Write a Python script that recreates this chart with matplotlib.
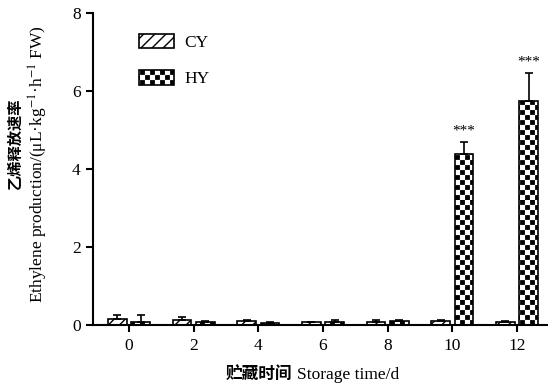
import matplotlib.pyplot as plt
import numpy as np
from matplotlib import hatch as mhatch
from matplotlib.path import Path
from matplotlib.patches import Patch

plt.rcParams['font.family'] = ['Liberation Serif', 'Noto Sans CJK SC']
plt.rcParams['mathtext.fontset'] = 'stix'
plt.rcParams['hatch.linewidth'] = 1.0

# Data
days = [0, 2, 4, 6, 8, 10, 12]
cy = [0.15, 0.13, 0.11, 0.07, 0.09, 0.10, 0.08]
cy_err = [0.10, 0.07, 0.03, 0.02, 0.03, 0.03, 0.03]
hy = [0.09, 0.08, 0.06, 0.09, 0.10, 4.38, 5.74]
hy_err = [0.17, 0.03, 0.02, 0.03, 0.03, 0.31, 0.73]
stars = ['', '', '', '', '', '***', '***']


# checkerboard hatch, takes the place of the '*' hatch
class CheckerHatch(mhatch.HatchPatternBase):
    def __init__(self, hatch, density):
        self.n = hatch.count('*') * 5
        self.num_vertices = 2 * self.n * self.n * 5

    def set_vertices_and_codes(self, vertices, codes):
        s = 1.0 / (2 * self.n)
        m = 0.006
        sq = []
        for i in range(self.n):
            for j in range(self.n):
                for x0, y0 in [(2 * i * s, 2 * j * s), ((2 * i + 1) * s, (2 * j + 1) * s)]:
                    sq.append([(x0 + m, y0 + m), (x0 + s - m, y0 + m),
                               (x0 + s - m, y0 + s - m), (x0 + m, y0 + s - m),
                               (x0 + m, y0 + m)])
        vertices[:] = np.array(sq).reshape(-1, 2)
        codes[:] = np.tile([Path.MOVETO, Path.LINETO, Path.LINETO, Path.LINETO,
                            Path.CLOSEPOLY], len(sq))


mhatch._hatch_types = [t for t in mhatch._hatch_types if t is not mhatch.Stars] + [CheckerHatch]

x = np.array(days, dtype=float)
w = 0.58
off = 0.36

fig = plt.figure(figsize=(5.48, 3.87), dpi=100)
ax = fig.add_axes([0.170, 0.160, 0.830, 0.806])

ax.bar(x - off, cy, w, color='white', edgecolor='black', hatch='///', linewidth=1.2)
ax.errorbar(x - off, cy, yerr=[np.zeros(len(cy)), cy_err], fmt='none',
            ecolor='black', elinewidth=1.2, capsize=3, capthick=1.2)

ax.bar(x + off, hy, w, color='black', edgecolor='white', hatch='**', linewidth=0)
ax.bar(x + off, hy, w, color='none', edgecolor='black', linewidth=1.2)
ax.errorbar(x + off, hy, yerr=[np.zeros(len(hy)), hy_err], fmt='none',
            ecolor='black', elinewidth=1.2, capsize=3, capthick=1.2)

for xi, yi, ei, s in zip(x, hy, hy_err, stars):
    if s:
        ax.text(xi + off, yi + ei + 0.28, s, ha='center', va='center', fontsize=11)

# legend
h1 = Patch(facecolor='white', edgecolor='black', hatch='///', linewidth=1.2)
h2a = Patch(facecolor='black', edgecolor='white', hatch='**', linewidth=0)
h2b = Patch(facecolor='none', edgecolor='black', linewidth=1.2)
ax.legend([h1, (h2a, h2b)], ['CY', 'HY'], loc='upper left',
          bbox_to_anchor=(139 / 548, (387 - 34) / 387), bbox_transform=fig.transFigure,
          frameon=False, fontsize=12.5, handlelength=2.0, handleheight=0.9,
          labelspacing=1.1, handletextpad=0.6, borderpad=0, borderaxespad=0)

ax.set_xlim(-1.11, 12.96)
ax.set_ylim(0, 8)
ax.set_xticks(days)
ax.set_yticks([0, 2, 4, 6, 8])
ax.tick_params(labelsize=12.5, width=1.5, length=5, direction='out', pad=4)
for side in ['top', 'right']:
    ax.spines[side].set_visible(False)
for side in ['left', 'bottom']:
    ax.spines[side].set_linewidth(1.5)

# axis titles: Chinese part bold, English part regular
fig.text(292 / 548, 12 / 387, '贮藏时间', ha='right', va='center',
         fontsize=12, fontweight='bold', family=['Noto Sans CJK SC'])
fig.text(297 / 548, 12 / 387, 'Storage time/d', ha='left', va='center', fontsize=12.5)
fig.text(14 / 548, 1 - 143 / 387, '乙烯释放速率', rotation=90, ha='center', va='center',
         fontsize=11, fontweight='bold', family=['Noto Sans CJK SC'])
fig.text(38 / 548, 1 - 164 / 387, r'Ethylene production/(μL·kg$^{-1}$·h$^{-1}$ FW)',
         rotation=90, ha='center', va='center', fontsize=12.5)

fig.savefig('out.png', dpi=100)
